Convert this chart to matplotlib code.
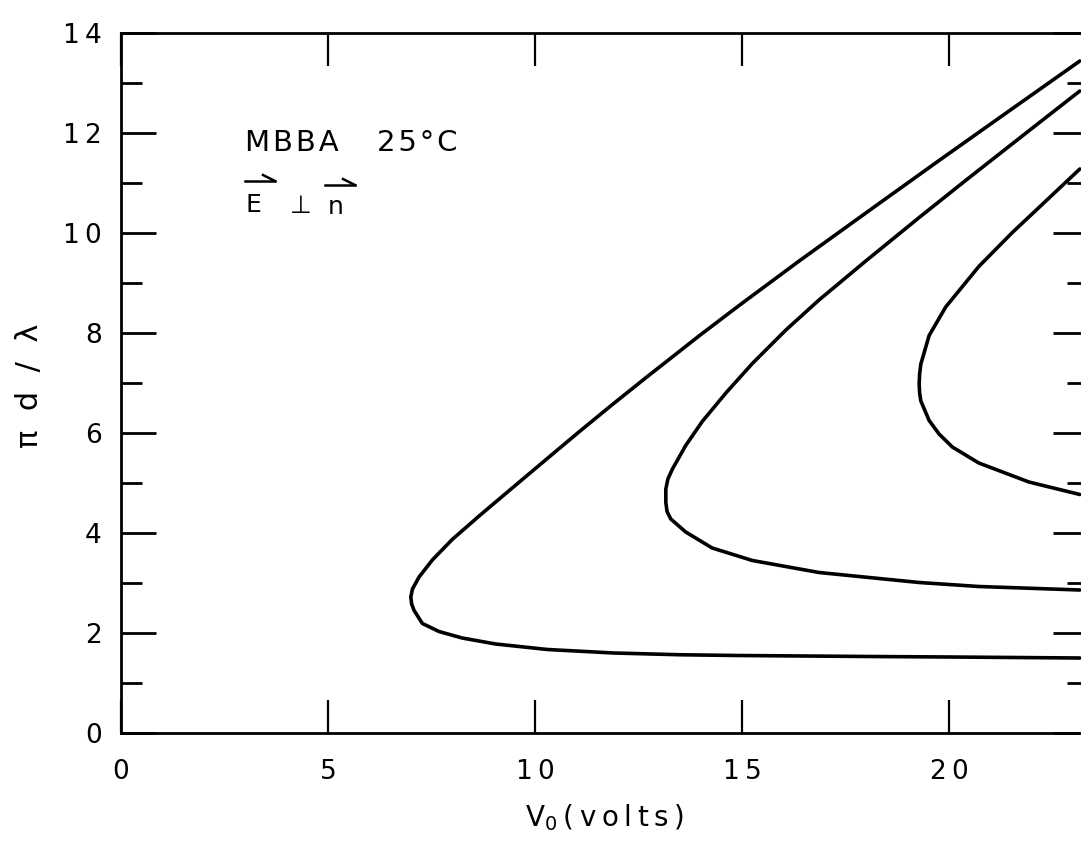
import matplotlib
matplotlib.use('Agg')
import matplotlib.pyplot as plt
from matplotlib.lines import Line2D

# threshold curves (V0 in volts, pi*d/lambda)
v_outer = [23.16, 20.0, 18.1, 14.9, 13.5, 11.9, 10.3, 9.05, 8.24, 7.68, 7.28, 7.08, 7.02, 7.00,
           7.04, 7.20, 7.52, 8.00, 8.65, 9.45, 10.34, 11.06, 11.87, 12.67, 13.96, 14.93, 16.38,
           18.31, 19.76, 21.21, 23.16]
pd_outer = [1.50, 1.52, 1.53, 1.55, 1.565, 1.60, 1.67, 1.78, 1.90, 2.03, 2.19, 2.45, 2.58, 2.72,
            2.88, 3.12, 3.46, 3.87, 4.34, 4.90, 5.52, 6.02, 6.57, 7.10, 7.94, 8.55, 9.44,
            10.59, 11.45, 12.30, 13.44]

v_mid = [23.16, 20.72, 19.28, 16.86, 15.25, 14.28, 13.64, 13.28, 13.19, 13.16, 13.16, 13.21,
         13.32, 13.64, 14.04, 14.61, 15.25, 16.06, 16.86, 17.99, 19.28, 20.40, 22.00, 23.16]
pd_mid = [2.86, 2.93, 3.01, 3.21, 3.45, 3.70, 4.02, 4.28, 4.43, 4.61, 4.88, 5.08,
          5.28, 5.75, 6.23, 6.80, 7.39, 8.06, 8.66, 9.44, 10.31, 11.05, 12.09, 12.84]

v_inner = [23.16, 21.93, 20.72, 20.08, 19.76, 19.52, 19.32, 19.29, 19.28, 19.29, 19.32, 19.52,
           19.92, 20.72, 21.53, 22.34, 23.16]
pd_inner = [4.77, 5.02, 5.40, 5.72, 5.98, 6.25, 6.64, 6.80, 6.98, 7.18, 7.38, 7.95,
            8.52, 9.33, 10.01, 10.64, 11.28]

xticks = [0, 5, 10, 15, 20]
yticks = [0, 2, 4, 6, 8, 10, 12, 14]
yminor = [1, 3, 5, 7, 9, 11, 13]

W, H = 1081, 842
thin = '\u2009'
hair = '\u200a'
fig = plt.figure(figsize=(W / 100, H / 100), dpi=100)
ax = fig.add_axes([121 / W, 109 / H, 967 / W, 700 / H])

for v, p in [(v_outer, pd_outer), (v_mid, pd_mid), (v_inner, pd_inner)]:
    ax.plot(v, p, color='black', lw=2.6, solid_capstyle='round', solid_joinstyle='round')

ax.set_xlim(0, 967 / 41.4)
ax.set_ylim(0, 14)
ax.set_xticks(xticks)
ax.set_xticklabels([thin.join(str(t)) for t in xticks])
ax.set_yticks(yticks)
ax.set_yticklabels([thin.join(str(t)) for t in yticks])
ax.set_yticks(yminor, minor=True)
for s in ax.spines.values():
    s.set_linewidth(2)

ax.tick_params(axis='y', which='major', direction='in', length=25, width=2,
               left=True, right=True, labelsize=19, pad=14)
ax.tick_params(axis='y', which='minor', direction='in', length=15, width=2,
               left=True, right=True)
ax.tick_params(axis='x', which='major', direction='in', length=24, width=1.6,
               bottom=True, top=True, labelsize=19, pad=19)

xlab = 'V$_0$' + thin + thin.join('(volts)')
fig.text(604 / W, 1 - 818 / H, xlab, fontsize=20, ha='center', va='center')
fig.text(30 / W, 1 - 386 / H, 'π  d  /  λ', fontsize=22, rotation=90, ha='center', va='center')

# annotation
fig.text(245 / W, 1 - 143 / H, hair.join('MBBA'), fontsize=21, ha='left', va='center')
fig.text(377 / W, 1 - 143 / H, hair.join('25°C'), fontsize=21, ha='left', va='center')
fig.text(245 / W, 1 - 205 / H, 'E', fontsize=18, ha='left', va='center')
fig.text(290 / W, 1 - 206 / H, '⊥', fontsize=18, ha='left', va='center')
fig.text(328 / W, 1 - 207 / H, 'n', fontsize=18, ha='left', va='center')
for x0, x1, y in [(245, 275, 181), (325, 355, 185)]:
    fig.add_artist(Line2D([x0 / W, x1 / W], [1 - y / H, 1 - y / H], color='black', lw=1.8,
                          transform=fig.transFigure))
    fig.add_artist(Line2D([(x1 - 12) / W, x1 / W], [1 - (y - 6) / H, 1 - y / H], color='black',
                          lw=1.8, transform=fig.transFigure))

fig.savefig('out.png', dpi=100)
